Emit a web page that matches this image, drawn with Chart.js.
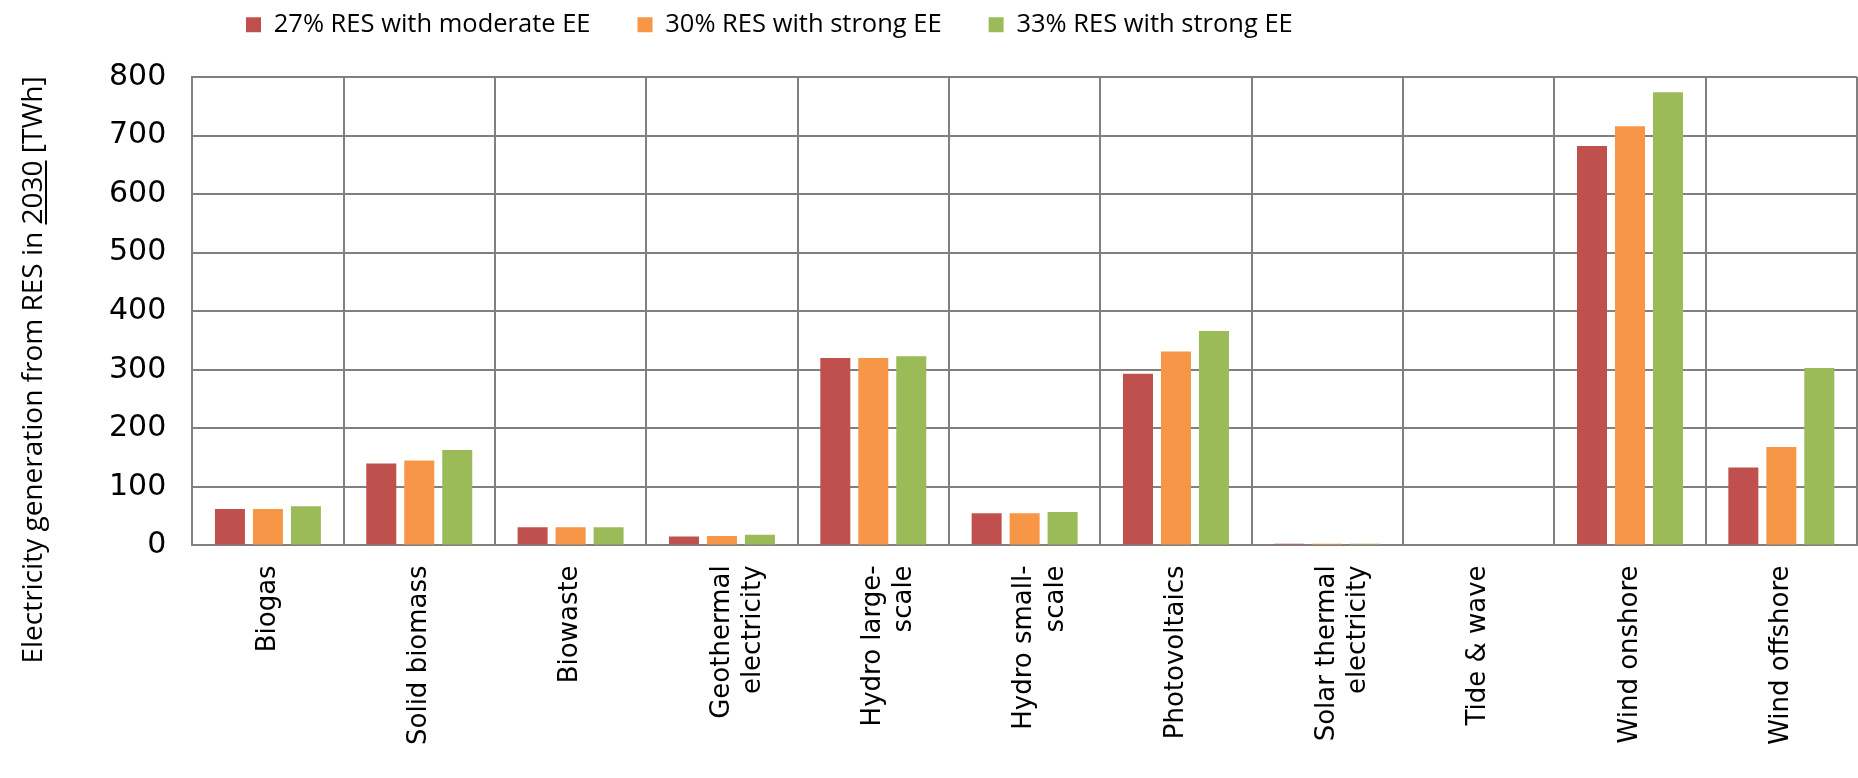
<!DOCTYPE html>
<html>
<head>
<meta charset="utf-8">
<script src="https://cdn.jsdelivr.net/npm/chart.js@4"></script>
<style>
  html, body { margin: 0; padding: 0; background: #fff; }
  #wrap { width: 1858px; height: 778px; position: relative; }
</style>
</head>
<body>
<div id="wrap"><canvas id="chartRes"></canvas></div>
<script>
// Tecnologías (etiquetas del eje X, en dos líneas cuando hace falta)
var tecnologias = [
  "Biogas",
  "Solid biomass",
  "Biowaste",
  ["Geothermal", "electricity"],
  ["Hydro large-", "scale"],
  ["Hydro small-", "scale"],
  "Photovoltaics",
  ["Solar thermal", "electricity"],
  "Tide & wave",
  "Wind onshore",
  "Wind offshore"
];

// Nombres de los escenarios
var escenarios = [
  "27% RES with moderate EE",
  "30% RES with strong EE",
  "33% RES with strong EE"
];

// Generación en 2030 [TWh] por escenario
var res27 = [62, 140, 31, 15, 320, 55, 293, 3, 1.5, 682, 133];
var res30 = [62, 145, 31, 16, 320, 55, 331, 3, 1.5, 716, 168];
var res33 = [67, 163, 31, 18, 323, 57, 366, 3, 1.5, 774, 303];

// Ticks del eje Y
var ticksY = [0, 100, 200, 300, 400, 500, 600, 700, 800];

var colores = ["#C0504D", "#F79646", "#9BBB59"];
var colorRejilla = "#808080";

// Título del eje Y dibujado a mano para poder subrayar el año
var tituloY = {
  antes: "Electricity generation from RES in ",
  anio: "2030",
  despues: " [TWh]"
};

var pluginTituloY = {
  id: "tituloY",
  afterDraw: function (chart) {
    var ctx = chart.ctx;
    var texto = tituloY.antes + tituloY.anio + tituloY.despues;
    ctx.save();
    ctx.font = "28px 'Open Sans'";
    ctx.fillStyle = "#000";
    ctx.textAlign = "left";
    ctx.textBaseline = "alphabetic";
    var total = ctx.measureText(texto).width;
    var wAntes = ctx.measureText(tituloY.antes).width;
    var wAnio = ctx.measureText(tituloY.anio).width;
    ctx.translate(42, 370);
    ctx.rotate(-Math.PI / 2);
    ctx.fillText(texto, -total / 2, 0);
    // subrayado del año
    ctx.strokeStyle = "#000";
    ctx.lineWidth = 2;
    ctx.beginPath();
    ctx.moveTo(-total / 2 + wAntes, 4);
    ctx.lineTo(-total / 2 + wAntes + wAnio, 4);
    ctx.stroke();
    ctx.restore();
  }
};

// Mover la leyenda para que empiece a la izquierda como en el original
var pluginLeyenda = {
  id: "posLeyenda",
  afterLayout: function (chart) {
    var lg = chart.legend;
    if (!lg) return;
    var pad = lg.options.labels.padding;
    lg.left = 246 - pad;
    lg.top = 12 - pad;
  }
};

var ctx = document.getElementById("chartRes").getContext("2d");

var chartRes = new Chart(ctx, {
  type: "bar",
  data: {
    labels: tecnologias,
    datasets: [
      { label: escenarios[0], data: res27, backgroundColor: colores[0] },
      { label: escenarios[1], data: res30, backgroundColor: colores[1] },
      { label: escenarios[2], data: res33, backgroundColor: colores[2] }
    ]
  },
  options: {
    responsive: true,
    maintainAspectRatio: false,
    animation: false,
    datasets: {
      bar: {
        categoryPercentage: 0.753,
        barPercentage: 0.79,
        borderWidth: 0
      }
    },
    layout: {
      padding: { left: 83, right: 1, top: 0, bottom: 13 }
    },
    scales: {
      x: {
        grid: {
          color: colorRejilla,
          lineWidth: 2,
          drawTicks: false,
          offset: true
        },
        border: { color: colorRejilla, width: 2 },
        ticks: {
          autoSkip: false,
          maxRotation: 90,
          minRotation: 90,
          padding: 20,
          color: "#000",
          font: { family: "'DejaVu Sans'", size: 26 }
        }
      },
      y: {
        min: 0,
        max: 800,
        afterBuildTicks: function (scale) {
          scale.ticks = ticksY.map(function (v) { return { value: v }; });
        },
        grid: {
          color: colorRejilla,
          lineWidth: 2,
          drawTicks: false
        },
        border: { color: colorRejilla, width: 2 },
        ticks: {
          padding: 26,
          color: "#000",
          font: { family: "'DejaVu Sans'", size: 30 }
        }
      }
    },
    plugins: {
      legend: {
        display: true,
        position: "top",
        align: "start",
        maxHeight: 77,
        labels: {
          boxWidth: 15,
          boxHeight: 15,
          padding: 47,
          color: "#000",
          font: { family: "'Open Sans'", size: 25.5 }
        }
      },
      tooltip: { enabled: false }
    }
  },
  plugins: [pluginTituloY, pluginLeyenda]
});
</script>
</body>
</html>
